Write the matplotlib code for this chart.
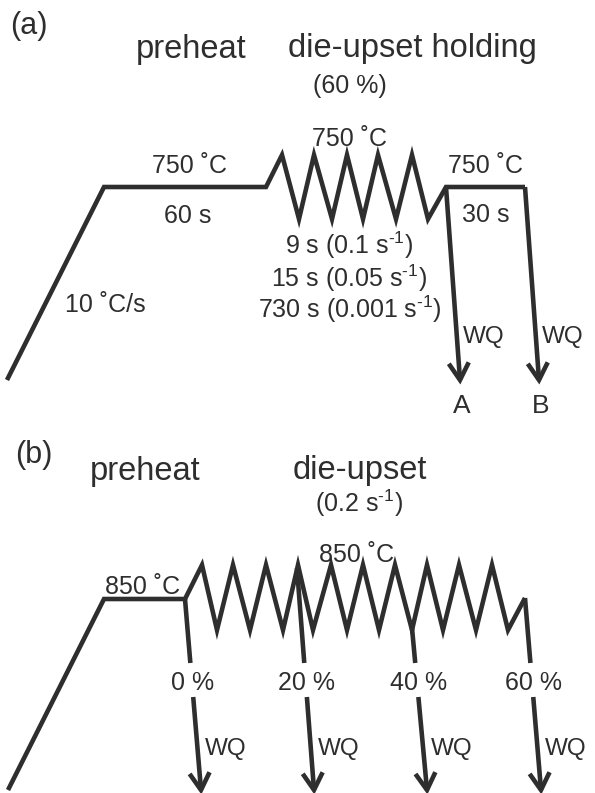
import matplotlib.pyplot as plt
import numpy as np

plt.rcParams['font.family'] = ['Liberation Sans', 'DejaVu Sans']
plt.rcParams['mathtext.fontset'] = 'custom'
plt.rcParams['mathtext.rm'] = 'Liberation Sans'
plt.rcParams['mathtext.it'] = 'Liberation Sans'
plt.rcParams['mathtext.default'] = 'regular'

INK = '#2e2e2e'
LW = 3.3

# (a) schematic path: time axis (px) vs temperature axis (px, downwards)
path_a_t = [7, 104, 266, 282, 299, 314, 332, 347, 363, 378, 396, 412, 428, 446, 525]
path_a_T = [380, 187, 187, 155, 219, 155, 219, 155, 219, 155, 219, 155, 219, 187, 187]
quench_a_start = [(446, 187), (525, 187)]
quench_a_end = [(460, 380), (539, 380)]
quench_a_names = ['A', 'B']

# (b) schematic path
path_b_t = [8, 104, 185, 202, 217, 233, 250, 266, 283, 298, 313, 331, 347, 363, 379,
            395, 412, 427, 443, 459, 476, 492, 508, 525]
path_b_T = [790, 599, 599, 565, 630, 565, 630, 565, 630, 565, 630, 565, 630, 565, 630,
            565, 630, 565, 630, 565, 630, 565, 630, 598]
quench_b_start = [(185, 599), (297, 568), (412, 628), (525, 598)]
quench_b_end = [(201, 790), (314, 790), (427, 790), (541, 790)]
strain_labels = ['0 %', '20 %', '40 %', '60 %']

INV_S = r's$^{\text{-1}}$'


def draw_arrow(ax, start, end, gap=None):
    x0, y0 = start
    x1, y1 = end
    if gap is None:
        ax.plot([x0, x1], [y0, y1], color=INK, lw=LW, solid_capstyle='butt')
    else:
        # break the line where a label sits
        for ya, yb in [(y0, gap[0]), (gap[1], y1)]:
            xa = np.interp(ya, [y0, y1], [x0, x1])
            xb = np.interp(yb, [y0, y1], [x0, x1])
            ax.plot([xa, xb], [ya, yb], color=INK, lw=LW, solid_capstyle='butt')
    d = np.array([x1 - x0, y1 - y0], dtype=float)
    d /= np.hypot(*d)
    n = np.array([-d[1], d[0]])
    tip = np.array([x1, y1])
    p1 = tip - 17 * d + 10 * n
    p2 = tip - 17 * d - 10 * n
    ax.plot([p1[0], tip[0], p2[0]], [p1[1], tip[1], p2[1]], color=INK, lw=LW,
            solid_joinstyle='miter', solid_capstyle='butt')


fig = plt.figure(figsize=(5.95, 7.93), dpi=100)
ax = fig.add_axes([0, 0, 1, 1])
ax.set_xlim(0, 595)
ax.set_ylim(793, 0)
ax.axis('off')

txt = dict(color=INK, ha='center', va='baseline')

# ---------- (a) ----------
ax.plot(path_a_t, path_a_T, color=INK, lw=LW, solid_joinstyle='miter', solid_capstyle='butt')
for s, e, name in zip(quench_a_start, quench_a_end, quench_a_names):
    draw_arrow(ax, s, e)
    ax.text(e[0] + 3, 343, 'WQ', fontsize=17.5, color=INK, ha='left', va='baseline')
    ax.text(e[0] + 2, 413, name, fontsize=19, **txt)

ax.text(10, 34, '(a)', fontsize=22, color=INK, ha='left', va='baseline')
ax.text(191, 58, 'preheat', fontsize=23.5, **txt)
ax.text(412, 57, 'die-upset holding', fontsize=23.5, **txt)
ax.text(350, 93, '(60 %)', fontsize=18, **txt)
ax.text(350, 146, '750 \u02daC', fontsize=18, **txt)
ax.text(189, 173, '750 \u02daC', fontsize=18, **txt)
ax.text(188, 223, '60 s', fontsize=18, **txt)
ax.text(486, 173, '750 \u02daC', fontsize=18, **txt)
ax.text(486, 222, '30 s', fontsize=18, **txt)
ax.text(105, 312, '10 \u02daC/s', fontsize=18, **txt)
ax.text(349, 254, '9 s (0.1 ' + INV_S + ')', fontsize=18, **txt)
ax.text(349, 287, '15 s (0.05 ' + INV_S + ')', fontsize=18, **txt)
ax.text(350, 318, '730 s (0.001 ' + INV_S + ')', fontsize=18, **txt)

# ---------- (b) ----------
ax.plot(path_b_t, path_b_T, color=INK, lw=LW, solid_joinstyle='miter', solid_capstyle='butt')
for s, e, lab in zip(quench_b_start, quench_b_end, strain_labels):
    draw_arrow(ax, s, e, gap=(663, 697))
    xm = np.interp(683, [s[1], e[1]], [s[0], e[0]])
    ax.text(xm + 1, 690, lab, fontsize=18, **txt)
    ax.text(e[0] + 4, 755, 'WQ', fontsize=17.5, color=INK, ha='left', va='baseline')

ax.text(15, 463, '(b)', fontsize=22, color=INK, ha='left', va='baseline')
ax.text(145, 480, 'preheat', fontsize=23.5, **txt)
ax.text(360, 479, 'die-upset', fontsize=23.5, **txt)
ax.text(359, 512, '(0.2 ' + INV_S + ')', fontsize=18, **txt)
ax.text(357, 562, '850 \u02daC', fontsize=18, **txt)
ax.text(143, 594, '850 \u02daC', fontsize=18, **txt)

fig.savefig('out.png', dpi=100, facecolor='white')
